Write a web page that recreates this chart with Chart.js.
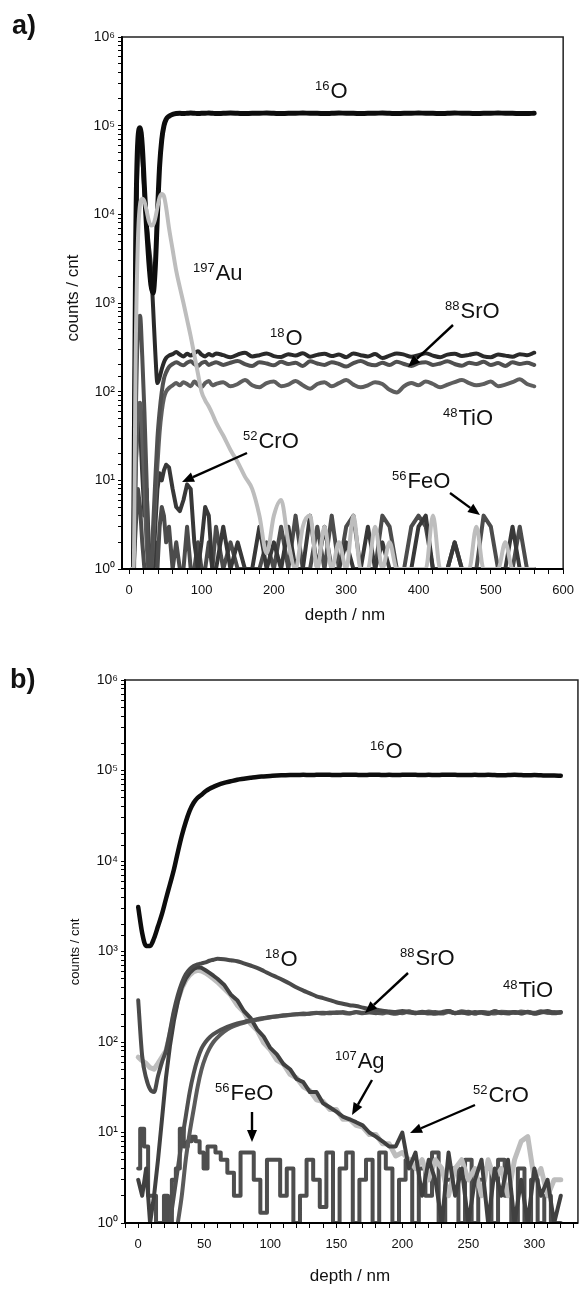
<!DOCTYPE html>
<html>
<head>
<meta charset="utf-8">
<script src="https://cdn.jsdelivr.net/npm/chart.js@4.4.1/dist/chart.umd.min.js"></script>
<style>
  html, body { margin: 0; padding: 0; background: #fff; }
  .panel { position: relative; width: 583px; height: 645px; }
  canvas { display: block; }
</style>
</head>
<body>
<div class="panel"><canvas id="chartA" width="583" height="645"></canvas></div>
<div class="panel"><canvas id="chartB" width="583" height="645"></canvas></div>
<script>
// ---- panel a: depth grid (nm) and counts per species ----
const depthA = [0, 3, 6, 9, 12, 15, 18, 21, 24, 27, 30, 33, 36, 39, 42, 45, 48, 51, 55, 60,
  65, 70, 75, 80, 85, 90, 95, 100, 105, 110, 115, 120,
  130, 140, 150, 160, 170, 180, 190, 200, 210, 220, 230, 240, 250, 260, 270, 280, 290, 300,
  310, 320, 330, 340, 350, 360, 370, 380, 390, 400, 410, 420, 430, 440, 450, 460, 470, 480,
  490, 500, 510, 520, 530, 540, 550, 560];

const o16A = [null, null, 1, 5000, 70000, 95000, 60000, 20000, 7000, 3000, 1600, 1300, 2500, 10000, 35000, 70000, 100000, 118000, 128000, 134000,
  137000, 138000, 137000, 138000, 139000, 138000, 137000, 138000, 138000, 139000, 138000, 137000,
  138000, 139000, 138000, 137000, 138000, 138000, 139000, 138000, 137000, 138000,
  138000, 139000, 138000, 138000, 137000, 138000, 139000, 138000, 138000, 137000,
  138000, 138000, 139000, 138000, 137000, 138000, 138000, 139000, 138000, 138000,
  137000, 138000, 139000, 138000, 138000, 137000, 138000, 138000, 139000, 138000,
  138000, 137000, 137000, 138000];

const o18A = [null, null, 1, 3000, 50000, 80000, 45000, 18000, 8000, 4500, 2600, 900, 280, 125, 145, 180, 215, 240, 255, 265,
  280, 262, 250, 268, 255, 272, 285, 262, 250, 266, 255, 270,
  258, 245, 262, 275, 250, 258, 270, 252, 246, 265, 255, 272, 248, 260, 268, 252, 262, 245,
  270, 258, 250, 266, 240, 255, 270, 262, 248, 258, 272, 255, 245, 262, 268, 252, 260, 270,
  250, 245, 262, 255, 248, 265, 258, 275];

const sroA = [null, null, 1, 50, 500, 720, 250, 60, 10, 1, 1, 3, 10, 30, 60, 100, 140, 165, 190, 205,
  215, 205, 198, 212, 220, 205, 195, 210, 218, 200, 208, 215,
  200, 212, 222, 205, 195, 215, 208, 198, 218, 205, 212, 195, 220, 208, 200, 215, 205, 192,
  210, 222, 205, 198, 212, 200, 218, 205, 195, 210, 215, 200, 208, 220, 205, 196, 212, 205,
  218, 200, 210, 195, 215, 205, 212, 200];

const tioA = [null, null, 1, 12, 60, 75, 30, 8, 2, 1, 1, 2, 6, 15, 35, 60, 85, 100, 110, 118,
  125, 118, 128, 122, 115, 130, 120, 112, 125, 132, 118, 122,
  128, 115, 122, 135, 118, 112, 125, 130, 115, 120, 132, 118, 108, 122, 128, 115, 125, 135,
  120, 112, 118, 128, 122, 105, 98, 115, 125, 118, 130, 122, 112, 120, 128, 135, 125, 118,
  122, 130, 115, 120, 128, 138, 122, 115];

const croA = [null, null, 1, 15, 60, 40, 12, 4, 8, 2, 1, 1, 3, 8, 12, 10, 13, 15, 14, 8,
  5, 4.5, 6, 9, 8, 2, 1, 2, 5, 4, 1, 1,
  3, 1, 2, 1, 1, 3, 1, 2, 1, 3, 1, 1, 4, 1, 3, 1, 1, 2, 1, 1,
  3, 1, 2, 1, 1, 1, 1, 3, 4, 1, 1, 1, 2, 1, 1, 1, 1, 1, 1, 1,
  3, 1, 1, 1];

const feoA = [null, null, 1, 3, 8, 5, 2, 1, 1, 1, 1, 1, 2, 1, 3, 5, 4, 2, 3, 1,
  2, 1, 1, 3, 1, 1, 2, 1, 1, 2, 1, 3,
  1, 2, 1, 1, 1, 1, 2, 1, 3, 1, 4, 1, 1, 3, 1, 4, 1, 3, 4, 1,
  1, 1, 4, 3, 1, 1, 3, 4, 3, 1, 1, 1, 2, 1, 1, 1, 4, 3, 1, 1,
  1, 3, 1, 1];

const auA = [null, 1, 1, 300, 5000, 13000, 15000, 14000, 11000, 8500, 7500, 7600, 9000, 12000, 15500, 17000, 16000, 12000, 7000, 4000,
  2300, 1500, 1000, 650, 420, 260, 160, 100, 80, 68, 56, 45,
  32, 22, 16, 11, 8, 4, 1.5, 4, 6, 2, 1, 3, 4, 1, 3, 1, 2, 1, 4, 1,
  1, 3, 1, 2, 1, 1, 1, 1, 1, 4, 1, 1, 1, 1, 1, 3, 1, 1, 1, 2,
  1, 1, 1, 1];

// ---- panel b ----
const depthB = [0, 3, 6, 9, 12, 15, 18, 21, 24, 27, 30, 33, 36, 39, 42, 45, 48, 51, 54, 57, 60,
  65, 70, 75, 80, 85, 90, 95, 100, 105, 110, 115, 120, 125, 130, 135, 140, 145, 150, 155, 160,
  165, 170, 175, 180, 185, 190, 195, 200, 205, 210, 215, 220, 225, 230, 235, 240, 245, 250, 255, 260,
  265, 270, 275, 280, 285, 290, 295, 300, 305, 310, 315, 320];

const o16B = [3100, 1600, 1150, 1150, 1400, 1900, 2600, 3800, 5500, 8000, 12500, 19000, 27000, 36000, 44000, 50000, 54000, 59000, 63000, 66000, 69000,
  73000, 76000, 79000, 81000, 83000, 85000, 86000, 87000, 88000, 88500,
  89000, 89000, 89500, 89000, 89500, 90000, 89500, 89000, 89500, 90000,
  89500, 89000, 89500, 90000, 89000, 89500, 89000, 89500, 90000, 89500,
  89000, 89500, 89000, 89500, 90000, 89500, 89000, 89000, 89500, 89000,
  89500, 89000, 88500, 89000, 89500, 89000, 88500, 89000, 88500, 88000,
  88000, 87500];

const o18B = [290, 70, 40, 30, 28, 42, 60, 80, 130, 220, 330, 450, 560, 640, 690, 720, 740, 760, 790, 810, 830,
  820, 800, 780, 740, 700, 660, 610, 560, 520, 480,
  440, 400, 370, 345, 320, 305, 290, 275, 265, 255,
  250, 240, 232, 228, 222, 218, 214, 220, 212, 208,
  216, 210, 205, 214, 220, 208, 212, 205, 215, 210,
  204, 218, 210, 206, 214, 208, 216, 205, 212, 220,
  210, 214];

const sroB = [null, null, null, null, null, null, null, null, 1, 2, 4, 8, 15, 28, 45, 65, 85, 100, 112, 122, 130,
  142, 152, 160, 167, 173, 179, 184, 189, 193, 197,
  200, 203, 206, 205, 209, 211, 208, 213, 210, 206,
  215, 210, 212, 208, 216, 210, 205, 214, 218, 208,
  212, 206, 215, 210, 220, 208, 212, 216, 206, 214,
  210, 218, 208, 212, 215, 206, 214, 210, 218, 212,
  208, 215];

const tioB = [null, null, null, null, null, null, null, null, null, null, 1, 2, 5, 10, 18, 32, 50, 68, 85, 100, 112,
  130, 145, 155, 163, 170, 176, 182, 187, 191, 195,
  199, 203, 202, 207, 210, 206, 212, 209, 215, 208,
  213, 208, 216, 211, 207, 215, 212, 208, 216, 212,
  209, 217, 211, 206, 214, 210, 218, 212, 207, 215,
  211, 206, 216, 213, 209, 217, 212, 208, 215, 211,
  214, 210];

const agB = [68, 62, 58, 52, 50, 58, 68, 80, 120, 200, 290, 390, 480, 550, 600, 620, 610, 580, 540, 500, 460,
  390, 330, 255, 215, 160, 135, 98, 82, 63, 57,
  44, 40, 32, 29, 23, 22, 18, 18, 14, 14,
  12, 11.5, 9.5, 9.5, 7.5, 7.5, 5.5, 6, 5, 4,
  5, 3, 5, 4, 2, 4, 5, 3, 4, 2,
  5, 3, 4, 2, 5, 8, 9, 3, 4, 2,
  3, 3];

const croB = [3, 2, 4, 1, 2, 5, 14, 40, 90, 170, 280, 400, 500, 580, 640, 670, 660, 620, 580, 540, 500,
  430, 335, 290, 220, 185, 138, 115, 86, 73, 57,
  50, 39, 36, 28, 28, 21, 19, 17, 15, 14,
  13, 12, 10, 9, 8, 7, 7, 10, 4, 6,
  2, 5, 3, 1, 6, 2, 4, 1, 3, 5,
  1, 4, 2, 5, 1, 3, 1, 4, 2, 3,
  1, 2];

const feoB = [4, 11, 7, 2, 2, 1, 1, 2, 1, 3, 4, 11, 7, 8, 9, 8, 6, 4, 7, 7, 6,
  5, 3.6, 2, 6, 6, 3, 1.3, 5, 5, 2,
  4, 1, 2, 5, 3, 1.5, 6, 1, 4, 6,
  1, 3, 5, 1, 6, 4, 1, 3, 5, 1,
  4, 2, 6, 1, 3, 4, 1, 5, 1, 3,
  4, 1, 5, 2, 1, 4, 1, 3, 1, 2,
  1, 1];

const FONT = '"Liberation Sans", Arial, Helvetica, sans-serif';
const SUP = { 0: "⁰", 1: "¹", 2: "²", 3: "³", 4: "⁴", 5: "⁵", 6: "⁶", 7: "⁷", 8: "⁸", 9: "⁹" };

function powerLabel(value) {
  const p = Math.log10(value);
  if (Math.abs(p - Math.round(p)) > 1e-6) return "";
  return "10" + SUP[Math.round(p)];
}

function points(grid, values) {
  return grid.map((d, i) => ({ x: d, y: values[i] }));
}

function series(label, grid, values, color, width, extra) {
  return Object.assign(
    {
      label: label,
      data: points(grid, values),
      borderColor: color,
      backgroundColor: color,
      borderWidth: width,
      pointRadius: 0,
      fill: false,
      cubicInterpolationMode: "monotone",
      borderJoinStyle: "round",
      borderCapStyle: "round",
      spanGaps: false,
      clip: 0,
    },
    extra || {},
  );
}

// straight segments for the jumpy low-count channels
const JAGGED = { cubicInterpolationMode: "default", tension: 0 };
// binned look for the iron background in b
const STEP = { stepped: "middle", cubicInterpolationMode: "default", tension: 0 };

function drawIsotope(ctx, mass, name, x, y, size) {
  ctx.textAlign = "left";
  ctx.textBaseline = "alphabetic";
  ctx.font = `${Math.round(size * 0.6)}px ${FONT}`;
  ctx.fillText(mass, x, y - size * 0.38);
  const w = ctx.measureText(mass).width;
  ctx.font = `${size}px ${FONT}`;
  ctx.fillText(name, x + w + 1, y);
}

function drawArrow(ctx, x1, y1, x2, y2) {
  const ang = Math.atan2(y2 - y1, x2 - x1);
  const head = 12;
  const half = 5;
  const bx = x2 - head * Math.cos(ang);
  const by = y2 - head * Math.sin(ang);
  ctx.lineWidth = 2.4;
  ctx.beginPath();
  ctx.moveTo(x1, y1);
  ctx.lineTo(bx, by);
  ctx.stroke();
  ctx.beginPath();
  ctx.moveTo(x2, y2);
  ctx.lineTo(bx - half * Math.sin(ang), by + half * Math.cos(ang));
  ctx.lineTo(bx + half * Math.sin(ang), by - half * Math.cos(ang));
  ctx.closePath();
  ctx.fill();
}

// frame, panel letter, axis titles, species labels and arrows
const decorations = {
  id: "decorations",
  afterDatasetsDraw(chart, args, opts) {
    const ctx = chart.ctx;
    const a = chart.chartArea;
    ctx.save();
    ctx.strokeStyle = "#222";
    ctx.lineWidth = 1.5;
    ctx.strokeRect(a.left, a.top, a.right - a.left, a.bottom - a.top);
    ctx.lineWidth = 2;
    ctx.strokeStyle = "#000";
    ctx.beginPath();
    ctx.moveTo(a.left, a.top);
    ctx.lineTo(a.left, a.bottom);
    ctx.lineTo(a.right, a.bottom);
    ctx.stroke();

    ctx.fillStyle = "#111";
    ctx.strokeStyle = "#000";
    opts.labels.forEach((l) => drawIsotope(ctx, l[0], l[1], l[2], l[3], opts.labelSize));
    ctx.fillStyle = "#000";
    opts.arrows.forEach((r) => drawArrow(ctx, r[0], r[1], r[2], r[3]));

    ctx.fillStyle = "#111";
    ctx.font = `bold 27px ${FONT}`;
    ctx.textAlign = "left";
    ctx.fillText(opts.letter, opts.letterPos[0], opts.letterPos[1]);

    ctx.font = `${opts.xTitleSize}px ${FONT}`;
    ctx.textAlign = "center";
    ctx.fillText(opts.xTitle, opts.xTitlePos[0], opts.xTitlePos[1]);

    ctx.translate(opts.yTitlePos[0], opts.yTitlePos[1]);
    ctx.rotate(-Math.PI / 2);
    ctx.font = `${opts.yTitleSize}px ${FONT}`;
    ctx.textBaseline = "middle";
    ctx.fillText(opts.yTitle, 0, 0);
    ctx.restore();
  },
};

function makeChart(id, datasets, xCfg, layout, notes) {
  const ctx = document.getElementById(id).getContext("2d");
  return new Chart(ctx, {
    type: "line",
    data: { datasets: datasets },
    plugins: [decorations],
    options: {
      responsive: false,
      animation: false,
      devicePixelRatio: 1,
      layout: { padding: layout.padding },
      plugins: {
        legend: { display: false },
        tooltip: { enabled: false },
        decorations: notes,
      },
      scales: {
        x: {
          type: "linear",
          min: -10,
          max: xCfg.max,
          afterFit: (scale) => {
            scale.height = layout.xHeight;
          },
          border: { color: "#000", width: 2 },
          grid: { drawOnChartArea: false, drawTicks: true, tickLength: 5, tickColor: "#000" },
          ticks: {
            stepSize: xCfg.minor,
            includeBounds: false,
            autoSkip: false,
            maxRotation: 0,
            padding: 9,
            color: "#111",
            font: { family: FONT, size: 13 },
            callback: (v) => (v % xCfg.major === 0 ? v : ""),
          },
        },
        y: {
          type: "logarithmic",
          min: 1,
          max: 1e6,
          afterFit: (scale) => {
            scale.width = layout.yWidth;
          },
          border: { color: "#000", width: 2 },
          grid: { drawOnChartArea: false, drawTicks: true, tickLength: 4, tickColor: "#000" },
          ticks: {
            autoSkip: false,
            padding: 3,
            color: "#111",
            font: { family: FONT, size: 14 },
            callback: (v) => powerLabel(v),
          },
        },
      },
    },
  });
}

makeChart(
  "chartA",
  [
    series("197Au", depthA, auA, "#bdbdbd", 4),
    series("16O", depthA, o16A, "#0d0d0d", 5),
    series("18O", depthA, o18A, "#2a2a2a", 4),
    series("88SrO", depthA, sroA, "#505050", 4),
    series("48TiO", depthA, tioA, "#5e5e5e", 4),
    series("52CrO", depthA, croA, "#383838", 4, JAGGED),
    series("56FeO", depthA, feoA, "#4c4c4c", 4, JAGGED),
  ],
  { max: 600, minor: 20, major: 100 },
  { padding: { top: 37, right: 13, left: 0, bottom: 0 }, xHeight: 76, yWidth: 122 },
  {
    letter: "a)",
    letterPos: [12, 34],
    xTitle: "depth / nm",
    xTitlePos: [345, 620],
    xTitleSize: 17,
    yTitle: "counts / cnt",
    yTitlePos: [73, 298],
    yTitleSize: 17,
    labelSize: 22,
    labels: [
      ["16", "O", 315, 98],
      ["197", "Au", 193, 280],
      ["18", "O", 270, 345],
      ["88", "SrO", 445, 318],
      ["48", "TiO", 443, 425],
      ["52", "CrO", 243, 448],
      ["56", "FeO", 392, 488],
    ],
    arrows: [
      [453, 325, 408, 367],
      [247, 453, 182, 482],
      [450, 493, 480, 515],
    ],
  },
);

makeChart(
  "chartB",
  [
    series("16O", depthB, o16B, "#0d0d0d", 4.5),
    series("18O", depthB, o18B, "#4a4a4a", 4),
    series("88SrO", depthB, sroB, "#505050", 4),
    series("48TiO", depthB, tioB, "#5a5a5a", 4),
    series("52CrO", depthB, croB, "#404040", 4, JAGGED),
    series("107Ag", depthB, agB, "#bdbdbd", 5, JAGGED),
    series("56FeO", depthB, feoB, "#4e4e4e", 4, STEP),
  ],
  { max: 333, minor: 10, major: 50 },
  { padding: { top: 35, right: 2, left: 0, bottom: 0 }, xHeight: 67, yWidth: 125 },
  {
    letter: "b)",
    letterPos: [10, 43],
    xTitle: "depth / nm",
    xTitlePos: [350, 636],
    xTitleSize: 17,
    yTitle: "counts / cnt",
    yTitlePos: [75, 307],
    yTitleSize: 13,
    labelSize: 22,
    labels: [
      ["16", "O", 370, 113],
      ["18", "O", 265, 321],
      ["88", "SrO", 400, 320],
      ["48", "TiO", 503, 352],
      ["107", "Ag", 335, 423],
      ["52", "CrO", 473, 457],
      ["56", "FeO", 215, 455],
    ],
    arrows: [
      [408, 328, 365, 368],
      [372, 435, 352, 470],
      [475, 460, 410, 488],
      [252, 467, 252, 497],
    ],
  },
);
</script>
</body>
</html>
